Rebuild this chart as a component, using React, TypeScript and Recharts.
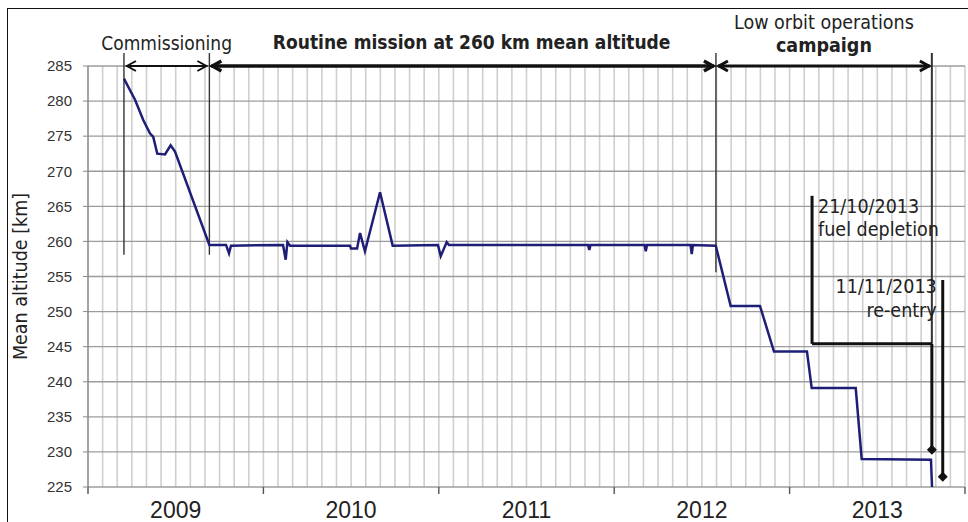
import React from 'react';
import { LineChart, Line, XAxis, YAxis, CartesianGrid, ReferenceLine, ReferenceDot, Label } from 'recharts';

// ---- data (fractional years, mean altitude in km) ----
const times = [2009.205, 2009.268, 2009.315, 2009.353, 2009.372, 2009.395, 2009.439, 2009.471, 2009.496, 2009.692, 2009.787, 2009.804, 2009.815, 2010.112, 2010.127, 2010.137, 2010.152, 2010.494, 2010.499, 2010.534, 2010.551, 2010.579, 2010.665, 2010.737, 2010.995, 2011.011, 2011.045, 2011.058, 2011.851, 2011.858, 2011.865, 2012.173, 2012.18, 2012.187, 2012.435, 2012.442, 2012.449, 2012.579, 2012.664, 2012.831, 2012.911, 2013.099, 2013.126, 2013.377, 2013.411, 2013.806, 2013.812];
const altitudes = [283.2, 280.2, 277.3, 275.4, 274.9, 272.5, 272.4, 273.7, 272.8, 259.5, 259.5, 258.3, 259.4, 259.5, 257.4, 259.9, 259.4, 259.4, 259.0, 259.0, 261.2, 258.6, 267.0, 259.4, 259.5, 257.9, 259.9, 259.5, 259.5, 258.8, 259.5, 259.5, 258.6, 259.5, 259.5, 258.2, 259.5, 259.4, 250.8, 250.8, 244.3, 244.3, 239.1, 239.1, 229.0, 228.9, 225.0];

const yTicks = [225, 230, 235, 240, 245, 250, 255, 260, 265, 270, 275, 280, 285];
const yearBoundaries = [2009, 2010, 2011, 2012, 2013, 2014];
const yearCenters = [2009.5, 2010.5, 2011.5, 2012.5, 2013.5];
const yearLabels = ['2009', '2010', '2011', '2012', '2013'];

// phase boundaries: launch, end of commissioning, end of routine, fuel depletion
const phaseDates = [2009.205, 2009.692, 2012.58, 2013.811];
const phaseLineBottoms = [258.1, 258.1, 255.6, 245.4];
const phaseTop = 286.85;
const arrowLevel = 285;
const phaseNames = [['Commissioning'], ['Routine mission at 260 km mean altitude'], ['Low orbit operations', 'campaign']];

const fuelDepletion = { date: 2013.811, bracketStart: 2013.128, top: 266.5, elbow: 245.4, point: 230.3, text: ['21/10/2013', 'fuel depletion'] };
const reentry = { date: 2013.873, top: 254.5, point: 226.45, text: ['11/11/2013', 're-entry'] };

const data = times.map((t, i) => ({ t, alt: altitudes[i] }));
const monthLines: number[] = [];
yearBoundaries.slice(0, -1).forEach((y) => {
  for (let m = 0; m < 12; m++) monthLines.push(y + m / 12);
});
monthLines.push(2014);

const FONT = "'DejaVu Sans Condensed', 'DejaVu Sans', Verdana, sans-serif";
const AXFONT = "'Liberation Sans', Arial, sans-serif";

const arrowShape = (lines: string[], weights: number[], sw: number, size: number, above: number[], dx: number) => (p: any) => {
  const l = Math.min(p.x1, p.x2) + 2;
  const r = Math.max(p.x1, p.x2) - 2;
  const y = p.y1;
  const cx = (l + r) / 2 + dx;
  return (
    <g>
      <line x1={l} y1={y} x2={r} y2={y} stroke="#111" strokeWidth={sw} />
      <path d={`M${l + 10},${y - 5} L${l + 1},${y} L${l + 10},${y + 5}`} fill="none" stroke="#111" strokeWidth={sw} />
      <path d={`M${r - 10},${y - 5} L${r - 1},${y} L${r - 10},${y + 5}`} fill="none" stroke="#111" strokeWidth={sw} />
      {lines.map((txt, i) => (
        <text key={i} x={cx} y={y - above[i]} textAnchor="middle" fontFamily={FONT} fontSize={size} fontWeight={weights[i]} fill="#222">
          {txt}
        </text>
      ))}
    </g>
  );
};

const textLineShape = (lines: string[], anchor: 'start' | 'end', dx: number, offs: number[], sw: number) => (p: any) => {
  const top = Math.min(p.y1, p.y2);
  return (
    <g>
      <line x1={p.x1} y1={p.y1} x2={p.x2} y2={p.y2} stroke="#111" strokeWidth={sw} />
      {lines.map((txt, i) => (
        <text key={i} x={p.x1 + dx} y={top + offs[i]} textAnchor={anchor} fontFamily={FONT} fontSize={19.5} fill="#222">
          {txt}
        </text>
      ))}
    </g>
  );
};

const diamond = (p: any) => (
  <path d={`M${p.cx},${p.cy - 5} L${p.cx + 5},${p.cy} L${p.cx},${p.cy + 5} L${p.cx - 5},${p.cy} Z`} fill="#111" />
);

const YTitle = (p: any) => {
  const vb = p.viewBox;
  const x = vb.x + 20;
  const cy = vb.y + vb.height / 2;
  return (
    <text x={x} y={cy} transform={`rotate(-90 ${x} ${cy})`} textAnchor="middle" dominantBaseline="central" fontFamily={FONT} fontSize={19.5} fill="#222">
      Mean altitude [km]
    </text>
  );
};

const monthGen = (props: any) => {
  const xAxis = props.xAxis;
  const off = props.offset;
  return monthLines.map((m) =>
    xAxis && typeof xAxis.scale === 'function' ? xAxis.scale(m) : off.left + ((m - 2009) / 5) * off.width
  );
};

// a year tick mark hangs just below the bottom of the value range
const tickMarkBottom = 224.0;

export default function App() {
  return (
    <div style={{ position: 'absolute', left: 0, top: 0, width: 968, height: 522, overflow: 'hidden', background: '#fff' }}>
      <div style={{ position: 'absolute', left: 7, top: 8, width: 990, height: 540, borderTop: '1.5px solid #111', borderLeft: '1.5px solid #111' }} />
      <LineChart width={968} height={522} data={data} margin={{ top: 66, right: 3, bottom: 0, left: 0 }}>
        <CartesianGrid xAxisId="b" horizontal={false} verticalCoordinatesGenerator={monthGen} stroke="#cfcfcf" strokeWidth={1.6} />
        <CartesianGrid xAxisId="b" vertical={false} stroke="#9c9c9c" strokeWidth={1.3} />
        <XAxis xAxisId="b" dataKey="t" type="number" domain={[2009, 2014]} allowDataOverflow ticks={yearBoundaries} tick={false} tickLine={false} height={0} axisLine={{ stroke: '#777', strokeWidth: 1.3 }} />
        <XAxis xAxisId="l" dataKey="t" type="number" domain={[2009, 2014]} allowDataOverflow ticks={yearCenters} tickFormatter={(v: number) => yearLabels[yearCenters.indexOf(v)]} tickSize={0} tickMargin={15} height={35} axisLine={false} tickLine={false} tick={{ fontSize: 23, fill: '#222', fontFamily: AXFONT }} />
        <YAxis domain={[225, 285]} ticks={yTicks} allowDataOverflow width={88} tickSize={5} tickMargin={11} axisLine={{ stroke: '#888', strokeWidth: 1.3 }} tickLine={{ stroke: '#888' }} tick={{ fontSize: 15, fill: '#333', fontFamily: AXFONT }} label={<Label content={YTitle} />} />

        {yearBoundaries.map((yb) => (
          <ReferenceLine key={'yt' + yb} xAxisId="b" ifOverflow="visible" segment={[{ x: yb, y: 225 }, { x: yb, y: tickMarkBottom }]} stroke="#555" strokeWidth={1.4} />
        ))}

        {phaseDates.map((d, i) => (
          <ReferenceLine key={'v' + i} xAxisId="b" ifOverflow="visible" segment={[{ x: d, y: phaseTop }, { x: d, y: phaseLineBottoms[i] }]} stroke="#333" strokeWidth={i === 3 ? 2 : 1.4} />
        ))}
        <ReferenceLine xAxisId="b" ifOverflow="visible" segment={[{ x: phaseDates[0], y: arrowLevel }, { x: phaseDates[1], y: arrowLevel }]} shape={arrowShape(phaseNames[0], [400], 2, 19, [16], 0)} />
        <ReferenceLine xAxisId="b" ifOverflow="visible" segment={[{ x: phaseDates[1], y: arrowLevel }, { x: phaseDates[2], y: arrowLevel }]} shape={arrowShape(phaseNames[1], [700], 3.5, 19, [17], 9)} />
        <ReferenceLine xAxisId="b" ifOverflow="visible" segment={[{ x: phaseDates[2], y: arrowLevel }, { x: phaseDates[3], y: arrowLevel }]} shape={arrowShape(phaseNames[2], [400, 700], 3, 19.5, [37, 14], 0)} />

        <Line xAxisId="b" type="linear" dataKey="alt" stroke="#1e1e78" strokeWidth={2.5} dot={false} isAnimationActive={false} />

        <ReferenceLine xAxisId="b" ifOverflow="visible" segment={[{ x: fuelDepletion.bracketStart, y: fuelDepletion.top }, { x: fuelDepletion.bracketStart, y: fuelDepletion.elbow }]} shape={textLineShape(fuelDepletion.text, 'start', 6, [17, 40], 3)} />
        <ReferenceLine xAxisId="b" ifOverflow="visible" segment={[{ x: fuelDepletion.bracketStart, y: fuelDepletion.elbow }, { x: fuelDepletion.date, y: fuelDepletion.elbow }]} stroke="#111" strokeWidth={3} />
        <ReferenceLine xAxisId="b" ifOverflow="visible" segment={[{ x: fuelDepletion.date, y: fuelDepletion.elbow }, { x: fuelDepletion.date, y: fuelDepletion.point }]} stroke="#111" strokeWidth={3} />
        <ReferenceLine xAxisId="b" ifOverflow="visible" segment={[{ x: reentry.date, y: reentry.top }, { x: reentry.date, y: reentry.point }]} shape={textLineShape(reentry.text, 'end', -6, [13, 37], 3)} />
        <ReferenceDot xAxisId="b" ifOverflow="visible" x={fuelDepletion.date} y={fuelDepletion.point} shape={diamond} />
        <ReferenceDot xAxisId="b" ifOverflow="visible" x={reentry.date} y={reentry.point} shape={diamond} />
      </LineChart>
    </div>
  );
}
